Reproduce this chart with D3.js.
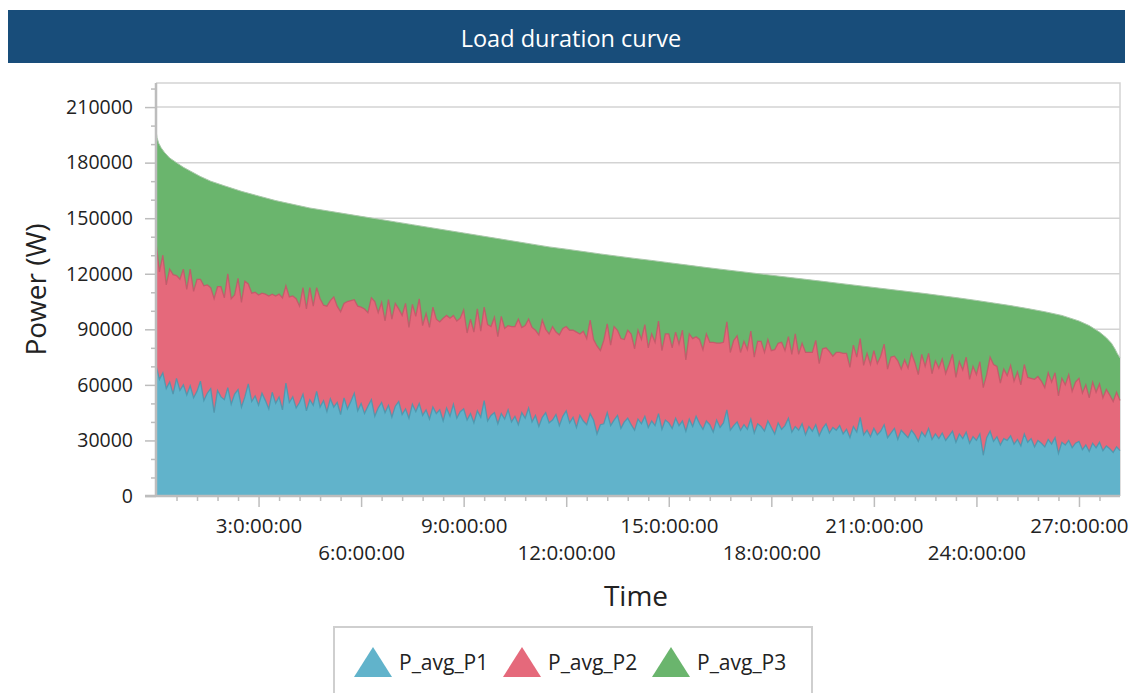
<!DOCTYPE html>
<html><head><meta charset="utf-8">
<script src="https://cdn.jsdelivr.net/npm/d3@7"></script>
<style>
body{margin:0;background:#fff}
svg{display:block;font-family:"Open Sans",sans-serif}
</style>
</head><body><script>
const chartTitle = "Load duration curve";
const xTitle = "Time";
const yTitle = "Power (W)";
const seriesNames = ["P_avg_P1", "P_avg_P2", "P_avg_P3"];
const seriesColors = ["#61b3cb", "#e5697b", "#6ab56d"];
const seriesEdge = ["#4897ae", "#c4566a", "#a9c7a9"];
const sampleStepDays = 0.1;
const xDomainDays = [0, 28.2];
const yDomainWatts = [0, 223000];

// phase 1 (kW), one value every 0.1 day
const p1kW = [
70.5,63.0,66.5,58.0,61.5,55.0,63.5,57.0,60.0,54.5,
59.5,53.0,56.5,62.0,51.5,55.5,58.0,45.0,57.0,53.5,
52.0,58.5,49.5,55.0,57.5,48.0,53.5,60.5,51.0,54.0,
49.0,55.5,51.5,47.0,56.0,50.0,53.5,46.5,61.0,50.5,
53.5,47.5,50.5,55.0,46.0,52.0,49.0,56.5,48.0,51.5,
45.5,52.5,48.0,50.5,44.0,53.0,47.0,51.0,55.5,46.0,
50.0,44.5,48.5,52.0,43.0,47.5,50.5,45.0,49.0,42.5,
48.5,51.0,44.0,47.0,42.0,49.5,45.5,50.0,43.5,46.5,
41.5,48.0,44.5,46.5,40.5,47.5,43.0,49.5,42.0,45.5,
47.0,41.0,44.5,39.5,46.0,42.5,51.5,40.5,43.5,45.0,
39.0,44.5,41.5,46.5,40.0,43.0,38.5,45.0,42.0,47.5,
40.0,43.5,37.5,42.5,45.0,39.5,41.0,44.0,38.0,43.0,
46.0,39.5,42.5,37.0,43.5,40.5,38.5,44.5,41.0,33.5,
38.5,39.0,45.0,38.0,41.0,43.5,36.5,40.0,42.0,38.5,
35.5,41.5,39.0,43.0,37.0,40.5,38.0,44.5,36.0,41.0,
39.5,36.5,42.0,38.0,40.5,35.0,41.5,37.5,43.0,39.0,
36.0,40.5,38.5,34.5,41.0,37.0,39.5,46.5,35.5,38.0,
40.0,35.5,38.5,36.0,41.5,34.0,39.0,37.5,35.0,40.5,
37.0,33.5,39.5,36.0,38.0,42.0,34.5,37.5,35.5,39.0,
33.0,37.5,35.0,38.5,32.5,36.5,39.0,34.0,37.0,35.5,
38.0,33.5,36.0,31.5,37.5,34.5,42.5,33.0,35.5,32.0,
36.5,33.0,35.0,38.5,31.5,34.0,36.5,30.5,35.5,33.5,
31.5,35.5,33.0,29.5,34.5,32.0,36.5,30.5,33.5,31.0,
34.0,30.0,32.5,35.0,29.0,33.5,31.0,34.5,28.5,32.0,
30.0,33.5,22.0,31.5,35.0,29.5,32.0,27.5,31.0,30.0,
32.5,28.0,30.5,27.0,33.5,29.0,31.0,26.5,30.0,28.5,
26.5,30.5,28.0,31.5,23.0,29.0,27.5,30.0,26.0,28.5,
29.5,25.0,27.5,24.0,28.5,26.0,29.0,24.5,27.0,25.5,
23.5,26.5,24.5
];

// phase 2 (kW), one value every 0.1 day
const p2kW = [
66.5,58.0,63.5,56.0,61.0,64.5,55.5,60.0,62.5,57.0,
63.0,57.5,60.5,55.0,62.0,58.5,54.5,61.5,56.0,59.5,
55.0,61.5,57.0,53.5,60.0,56.5,62.5,54.0,58.5,56.0,
59.5,54.0,57.5,61.0,53.0,58.0,55.5,60.5,52.5,57.0,
54.5,59.0,52.0,57.5,55.0,60.5,53.5,56.0,58.5,51.5,
57.0,53.0,59.5,52.0,55.5,51.0,58.0,54.5,50.5,56.5,
52.0,56.5,50.5,55.0,62.0,51.5,54.0,49.5,57.0,53.0,
55.5,50.0,53.5,57.0,49.0,54.0,51.5,56.5,48.5,52.0,
49.5,54.0,51.0,47.5,55.5,50.0,53.0,48.0,52.5,50.5,
53.5,47.0,51.0,49.0,55.0,46.5,50.5,52.0,48.0,51.5,
47.0,52.5,49.0,45.5,51.5,48.5,57.0,46.0,50.0,48.0,
51.0,46.0,49.5,52.5,45.0,48.0,50.5,44.5,49.0,47.5,
45.5,50.0,47.0,51.5,44.0,48.5,46.5,50.5,43.5,47.5,
40.0,45.0,48.0,43.5,50.5,46.0,48.5,44.5,47.5,49.0,
44.0,48.0,45.5,49.5,43.0,47.0,45.0,50.0,42.5,46.5,
48.0,43.5,46.5,44.0,49.0,38.5,46.0,47.5,43.0,45.5,
43.0,47.0,44.5,48.5,41.5,45.5,43.5,47.5,42.0,46.0,
46.5,42.0,45.0,43.0,47.5,41.0,44.5,46.0,42.5,44.0,
41.5,45.5,43.0,47.0,40.5,44.0,42.0,50.0,41.0,43.5,
44.5,40.0,42.5,45.5,39.0,43.0,41.0,44.0,38.5,42.0,
39.5,43.5,41.0,38.0,44.0,40.5,42.5,37.5,41.5,39.0,
42.0,38.5,40.5,43.5,37.0,41.0,39.0,42.5,33.0,40.0,
37.5,41.5,39.0,36.0,42.0,38.0,40.5,35.5,39.5,38.0,
40.0,36.0,38.5,41.5,35.0,39.0,37.0,40.5,34.5,38.0,
35.5,39.0,36.5,34.0,40.0,41.5,38.0,33.5,37.5,35.0,
38.0,34.0,36.5,33.0,37.5,35.0,32.5,36.5,34.5,33.5,
32.0,36.0,33.5,35.0,31.0,34.5,32.5,35.5,30.5,33.0,
34.0,30.5,32.5,29.0,33.0,30.0,31.5,28.5,30.5,29.0,
27.5,29.5,27.0
];

// sorted total load (load duration curve): [day, W]
const totalCurve = [
[0,197500],[0.03,193500],[0.08,190500],[0.15,188000],[0.25,185500],[0.4,182500],
[0.6,180000],[0.8,177500],[1.0,175500],[1.3,172500],[1.6,170000],[2.0,167500],
[2.5,164500],[3.0,162000],[3.5,159500],[4.0,157500],[4.5,155500],[5.0,154000],
[5.5,152500],[6.0,151000],[6.5,149500],[7.0,148000],[7.5,146500],[8.0,145000],
[8.5,143500],[9.0,142000],[9.5,140500],[10,139000],[10.5,137500],[11,136000],
[11.5,134500],[12,133300],[12.5,132000],[13,130700],[13.5,129500],[14,128300],
[14.5,127200],[15,126000],[15.5,124800],[16,123600],[16.5,122500],[17,121400],
[17.5,120300],[18,119200],[18.5,118100],[19,117000],[19.5,115900],[20,114800],
[20.5,113700],[21,112600],[21.5,111500],[22,110400],[22.5,109300],[23,108100],
[23.5,106900],[24,105600],[24.5,104200],[25,102800],[25.5,101200],[26,99500],
[26.5,97500],[27,94500],[27.3,92000],[27.6,88500],[27.8,85500],[27.95,82500],
[28.05,79500],[28.12,77000],[28.2,74500]
];

const yTickValues = [0, 30000, 60000, 90000, 120000, 150000, 180000, 210000];
const yMinorStep = 10000;
const xTickDays = [3, 6, 9, 12, 15, 18, 21, 24, 27];
const xTickLabels = ["3:0:00:00","6:0:00:00","9:0:00:00","12:0:00:00","15:0:00:00","18:0:00:00","21:0:00:00","24:0:00:00","27:0:00:00"];
const xMinorStepDays = 0.6;

// ---- build ----
const W = 1133, H = 693;
const plot = {left: 156, right: 1120, top: 83, bottom: 496};

const svg = d3.select("body").append("svg").attr("width", W).attr("height", H);

// title bar
svg.append("rect").attr("x", 8).attr("y", 10).attr("width", 1117).attr("height", 53).attr("fill", "#184d7a");
svg.append("text").attr("x", 571).attr("y", 39).attr("dy", "0.35em").attr("text-anchor", "middle")
  .attr("fill", "#fff").attr("font-size", 23.5).text(chartTitle);

const x = d3.scaleLinear().domain(xDomainDays).range([plot.left, plot.right]);
const y = d3.scaleLinear().domain(yDomainWatts).range([plot.bottom, plot.top]);

// grid
svg.append("g").selectAll("line").data(yTickValues.filter(v => v > 0)).join("line")
  .attr("x1", plot.left).attr("x2", plot.right).attr("y1", d => y(d)).attr("y2", d => y(d))
  .attr("stroke", "#d3d3d3").attr("stroke-width", 1.5);
// frame top/right
svg.append("path").attr("d", `M${plot.left},${plot.top}H${plot.right}V${plot.bottom}`)
  .attr("fill", "none").attr("stroke", "#d3d3d3").attr("stroke-width", 1.5);

// data rows
const rows = p1kW.map((v, i) => ({t: i * sampleStepDays, P_avg_P1: v * 1000, P_avg_P2: p2kW[i] * 1000}));
const stacked = d3.stack().keys(["P_avg_P1", "P_avg_P2"])(rows);

// P3 (top of the stack = total load duration curve)
svg.append("path").datum(totalCurve)
  .attr("d", d3.area().x(d => x(d[0])).y0(y(0)).y1(d => y(d[1])))
  .attr("fill", seriesColors[2]);
svg.append("path").datum(totalCurve)
  .attr("d", d3.line().x(d => x(d[0])).y(d => y(d[1])))
  .attr("fill", "none").attr("stroke", seriesEdge[2]).attr("stroke-width", 1);

const area = d3.area().x(d => x(d.data.t)).y0(d => y(0)).y1(d => y(d[1]));
const edge = d3.line().x(d => x(d.data.t)).y(d => y(d[1]));
// draw P2 (stacked on P1) then P1
[1, 0].forEach(k => {
  svg.append("path").datum(stacked[k]).attr("d", area).attr("fill", seriesColors[k]);
  svg.append("path").datum(stacked[k]).attr("d", edge).attr("fill", "none")
    .attr("stroke", seriesEdge[k]).attr("stroke-width", 1.3).attr("stroke-opacity", 0.85);
});

// axes
const axisColor = "#bdbdbd";
const textColor = "#222";
const yMinor = d3.range(0, yDomainWatts[1], yMinorStep).filter(v => !yTickValues.includes(v));
const gyMinor = svg.append("g").attr("transform", `translate(${plot.left},0)`)
  .call(d3.axisLeft(y).tickValues(yMinor).tickSize(5).tickFormat(""));
const gy = svg.append("g").attr("transform", `translate(${plot.left},0)`)
  .call(d3.axisLeft(y).tickValues(yTickValues).tickSize(11).tickPadding(12).tickFormat(d3.format("d")));
[gy, gyMinor].forEach(g => {
  g.select(".domain").remove();
  g.selectAll("line").attr("stroke", axisColor).attr("stroke-width", 1.5);
});
gy.selectAll("text").attr("font-size", 19.5).attr("fill", textColor).attr("font-family", "Open Sans");

const xMinor = d3.range(0, xDomainDays[1], xMinorStepDays).filter(v => xTickDays.every(t => Math.abs(t - v) > 1e-6) && v > 0);
const gxMinor = svg.append("g").attr("transform", `translate(0,${plot.bottom})`)
  .call(d3.axisBottom(x).tickValues(xMinor).tickSize(5).tickFormat(""));
const gx = svg.append("g").attr("transform", `translate(0,${plot.bottom})`)
  .call(d3.axisBottom(x).tickValues(xTickDays).tickSize(11).tickFormat((d, i) => xTickLabels[i]));
[gx, gxMinor].forEach(g => {
  g.select(".domain").remove();
  g.selectAll("line").attr("stroke", axisColor).attr("stroke-width", 1.5);
});
gx.selectAll("text").attr("font-size", 20.5).attr("fill", textColor).attr("font-family", "Open Sans")
  .attr("dy", "0.35em").attr("y", (d, i) => i % 2 === 0 ? 30 : 57);

// axis lines
svg.append("line").attr("x1", plot.left).attr("x2", plot.left).attr("y1", plot.top).attr("y2", plot.bottom + 1)
  .attr("stroke", axisColor).attr("stroke-width", 2.5);
svg.append("line").attr("x1", plot.left - 11).attr("x2", plot.right).attr("y1", plot.bottom).attr("y2", plot.bottom)
  .attr("stroke", axisColor).attr("stroke-width", 2.5);

// axis titles
svg.append("text").attr("x", 636).attr("y", 596).attr("dy", "0.35em").attr("text-anchor", "middle")
  .attr("font-size", 28).attr("fill", textColor).text(xTitle);
svg.append("text").attr("transform", `translate(36,${(plot.top + plot.bottom) / 2}) rotate(-90)`)
  .attr("dy", "0.35em").attr("text-anchor", "middle")
  .attr("font-size", 28).attr("fill", textColor).text(yTitle);

// legend
const lg = svg.append("g");
lg.append("rect").attr("x", 334).attr("y", 627).attr("width", 478).attr("height", 80)
  .attr("fill", "#fff").attr("stroke", "#cfcfcf").attr("stroke-width", 2);
const legendX = [354, 503, 652];
seriesNames.forEach((name, i) => {
  const lx = legendX[i];
  lg.append("path").attr("d", `M${lx},677L${lx + 19},647L${lx + 38},677Z`).attr("fill", seriesColors[i]);
  lg.append("text").attr("x", lx + 45).attr("y", 663).attr("dy", "0.35em")
    .attr("font-size", 21).attr("fill", textColor).text(name);
});
</script></body></html>
